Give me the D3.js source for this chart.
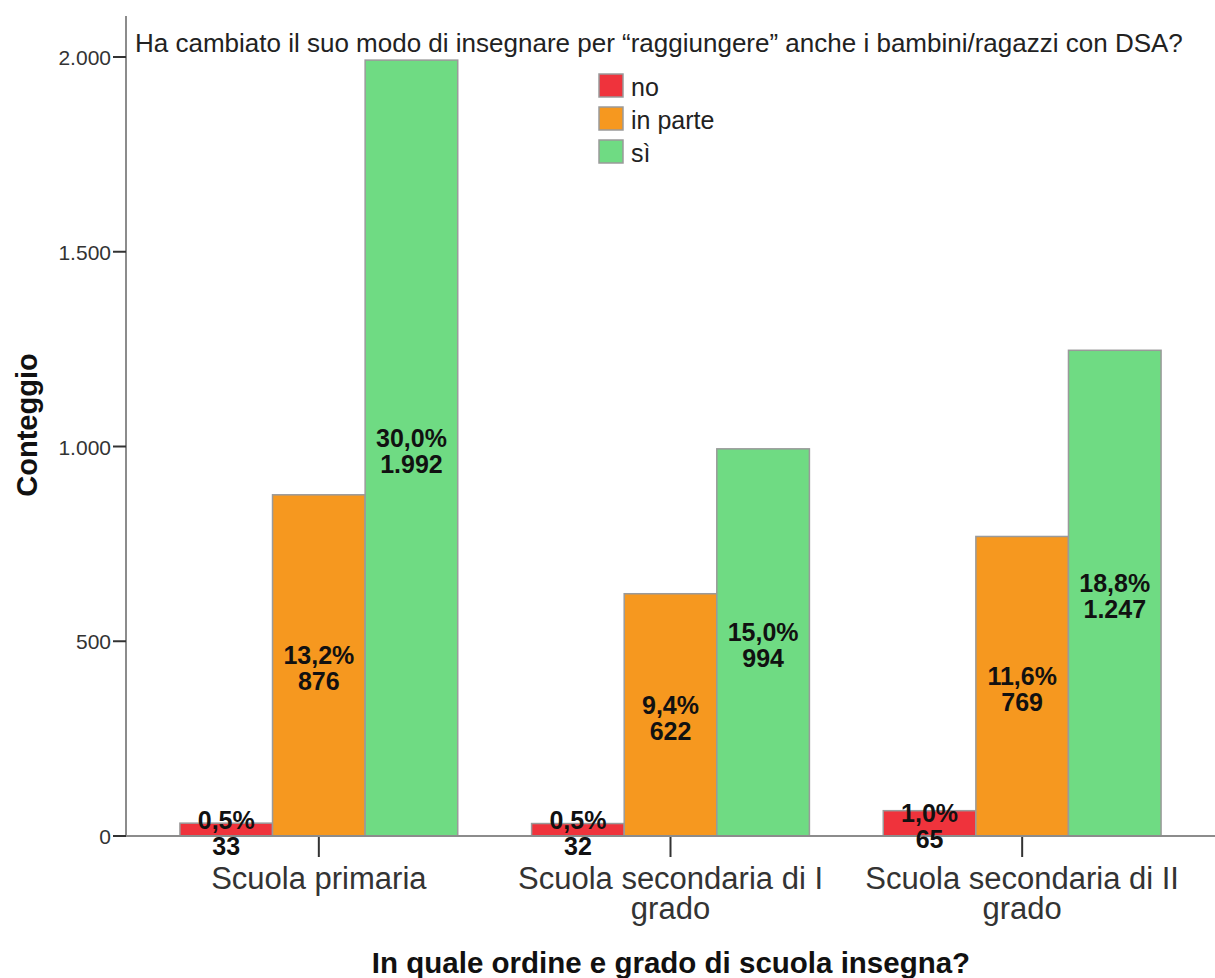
<!DOCTYPE html>
<html>
<head>
<meta charset="utf-8">
<script src="https://cdn.jsdelivr.net/npm/d3@7"></script>
<style>
  body { margin: 0; background: #fff; }
  text { font-family: "Liberation Sans", Arial, sans-serif; }
</style>
</head>
<body>
<div id="wrapper"></div>
<script>
// categorie (due righe per le etichette lunghe)
const schools = ["Scuola primaria", "Scuola secondaria di I grado", "Scuola secondaria di II grado"];
const schoolLines = [["Scuola primaria"], ["Scuola secondaria di I", "grado"], ["Scuola secondaria di II", "grado"]];
const answers = ["no", "in parte", "sì"];
const answerColors = ["#ef333c", "#f6981f", "#6fdb83"];

// conteggi per risposta, nell'ordine delle scuole
const countNo = [33, 32, 65];
const countInParte = [876, 622, 769];
const countSi = [1992, 994, 1247];
// percentuali sul totale
const pctNo = ["0,5%", "0,5%", "1,0%"];
const pctInParte = ["13,2%", "9,4%", "11,6%"];
const pctSi = ["30,0%", "15,0%", "18,8%"];

const yTicks = [0, 500, 1000, 1500, 2000];
const yTickLabels = ["0", "500", "1.000", "1.500", "2.000"];

const title = "Ha cambiato il suo modo di insegnare per “raggiungere” anche i bambini/ragazzi con DSA?";
const xTitle = "In quale ordine e grado di scuola insegna?";
const yTitle = "Conteggio";

const counts = [countNo, countInParte, countSi];
const pcts = [pctNo, pctInParte, pctSi];

var bars = [];
for (let i = 0; i < schools.length; i++) {
    for (let j = 0; j < answers.length; j++) {
        bars.push({
            school: schools[i],
            answer: answers[j],
            color: answerColors[j],
            value: counts[j][i],
            pct: pcts[j][i],
            label: counts[j][i] >= 1000 ? d3.format(",")(counts[j][i]).replace(",", ".") : String(counts[j][i])
        });
    }
}

const width = 1215, height = 978;
const axisX = 126, axisY = 836;

const svg = d3.select("#wrapper").append("svg")
    .attr("width", width)
    .attr("height", height);

const x = d3.scaleBand()
    .domain(schools)
    .range([143, 1198])
    .paddingInner(0.21)
    .paddingOuter(0.105);

const xInner = d3.scaleBand()
    .domain(answers)
    .range([0, x.bandwidth()]);

const y = d3.scaleLinear()
    .domain([0, 2000])
    .range([axisY, 57]);

// barre
svg.append("g")
    .selectAll("rect")
    .data(bars)
    .enter()
    .append("rect")
    .attr("x", d => x(d.school) + xInner(d.answer))
    .attr("y", d => y(d.value))
    .attr("width", xInner.bandwidth())
    .attr("height", d => y(0) - y(d.value))
    .attr("fill", d => d.color)
    .attr("stroke", "#9a9a9a")
    .attr("stroke-width", 1.5);

// asse y
svg.append("line")
    .attr("x1", axisX).attr("x2", axisX)
    .attr("y1", 16).attr("y2", axisY)
    .attr("stroke", "#8c8c8c").attr("stroke-width", 2);

const yAxis = svg.append("g");
yAxis.selectAll("line")
    .data(yTicks)
    .enter()
    .append("line")
    .attr("x1", axisX - 13).attr("x2", axisX)
    .attr("y1", d => y(d)).attr("y2", d => y(d))
    .attr("stroke", "#333").attr("stroke-width", 2);
yAxis.selectAll("text")
    .data(yTicks)
    .enter()
    .append("text")
    .attr("x", axisX - 15)
    .attr("y", d => y(d) + 8)
    .attr("text-anchor", "end")
    .style("font-size", "21px")
    .style("fill", "#333")
    .text((d, i) => yTickLabels[i]);

// asse x
svg.append("line")
    .attr("x1", axisX).attr("x2", width)
    .attr("y1", axisY).attr("y2", axisY)
    .attr("stroke", "#8c8c8c").attr("stroke-width", 2);

const xAxis = svg.append("g");
xAxis.selectAll("line")
    .data(schools)
    .enter()
    .append("line")
    .attr("x1", d => x(d) + x.bandwidth() / 2)
    .attr("x2", d => x(d) + x.bandwidth() / 2)
    .attr("y1", axisY + 1).attr("y2", axisY + 21)
    .attr("stroke", "#333").attr("stroke-width", 2);
xAxis.selectAll("text")
    .data(schools)
    .enter()
    .append("text")
    .attr("text-anchor", "middle")
    .style("font-size", "31px")
    .style("fill", "#333")
    .each(function(d, i) {
        const t = d3.select(this);
        schoolLines[i].forEach((line, k) => {
            t.append("tspan")
                .attr("x", x(d) + x.bandwidth() / 2)
                .attr("y", 889 + k * 30)
                .text(line);
        });
    });

// etichette delle barre
const labels = svg.append("g")
    .selectAll("text")
    .data(bars)
    .enter()
    .append("text")
    .attr("text-anchor", "middle")
    .style("font-size", "25px")
    .style("font-weight", "bold")
    .style("fill", "#111");
labels.append("tspan")
    .attr("x", d => x(d.school) + xInner(d.answer) + xInner.bandwidth() / 2)
    .attr("y", d => (y(d.value) + y(0)) / 2 - 1)
    .text(d => d.pct);
labels.append("tspan")
    .attr("x", d => x(d.school) + xInner(d.answer) + xInner.bandwidth() / 2)
    .attr("y", d => (y(d.value) + y(0)) / 2 + 25)
    .text(d => d.label);

// titolo
svg.append("text")
    .attr("x", 135)
    .attr("y", 52)
    .style("font-size", "26px")
    .style("fill", "#222")
    .text(title);

// legenda
const legend = svg.append("g")
    .selectAll("g")
    .data(answers)
    .enter()
    .append("g")
    .attr("transform", (d, i) => `translate(599,${74 + i * 33})`);
legend.append("rect")
    .attr("width", 24).attr("height", 23)
    .attr("fill", (d, i) => answerColors[i])
    .attr("stroke", "#9a9a9a").attr("stroke-width", 1.5);
legend.append("text")
    .attr("x", 32).attr("y", 22)
    .style("font-size", "25px")
    .style("fill", "#222")
    .text(d => d);

// titoli degli assi
svg.append("text")
    .attr("x", 671)
    .attr("y", 973)
    .attr("text-anchor", "middle")
    .style("font-size", "29.5px")
    .style("font-weight", "bold")
    .style("fill", "#111")
    .text(xTitle);

svg.append("text")
    .attr("transform", "translate(37,425) rotate(-90)")
    .attr("text-anchor", "middle")
    .style("font-size", "29px")
    .style("font-weight", "bold")
    .style("fill", "#111")
    .text(yTitle);
</script>
</body>
</html>
